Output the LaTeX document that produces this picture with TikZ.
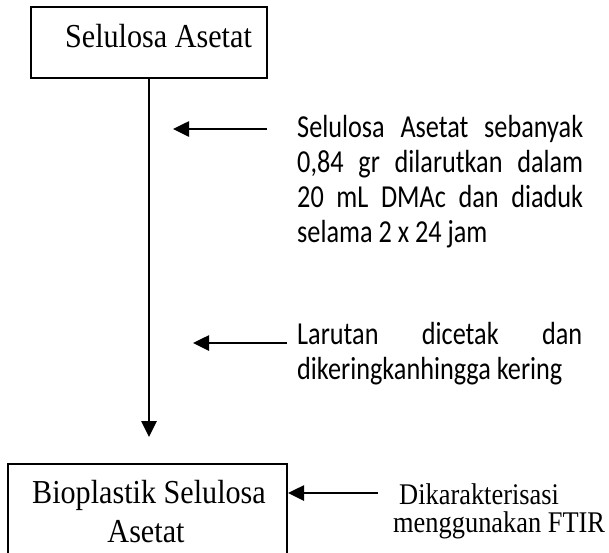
\documentclass[tikz,border=0pt]{standalone}
\usepackage{fontspec}
\usetikzlibrary{arrows.meta,calc}
\newfontfamily\calfont[FakeStretch=0.82]{Carlito}
\newfontfamily\tnrfont[FakeStretch=0.88]{Liberation Serif}
\newfontfamily\cambfont[FakeStretch=0.90]{Liberation Serif}
\begin{document}
\begin{tikzpicture}[x=1pt,y=-1pt,
  boxst/.style={draw, line width=2pt, inner sep=0pt},
  arr/.style={line width=2.6pt, -{Triangle[length=16pt,width=15pt]}},
  boxtext/.style={inner sep=0pt, font=\cambfont\fontsize{33.5}{39}\selectfont},
  sidetext/.style={inner sep=0pt, align=justify, text width=286pt,
    font=\calfont\fontsize{32}{35.3}\selectfont},
  tnrtext/.style={inner sep=0pt, align=left,
    font=\tnrfont\fontsize{30}{27}\selectfont}]
\useasboundingbox (0,0) rectangle (609,552);
\fill[white] (0,0) rectangle (609,552);

% top box
\node[boxst, minimum width=236pt, minimum height=71pt] (topbox) at (149,42.5) {};
\node[boxtext, anchor=base] (toptext) at (158.5,47) {Selulosa Asetat};

% bottom box (its lower edge lies below the picture)
\node[boxst, minimum width=279pt, minimum height=92pt] (botbox) at (147.5,510) {};
\node[boxtext, anchor=base] (bottext1) at (149,503) {Bioplastik Selulosa};
\node[boxtext, anchor=base] (bottext2) at (146,542) {Asetat};

% vertical arrow
\coordinate (vtip) at (149,437);
\draw[arr] (topbox.south) -- (vtip);

% first side note
\coordinate (a1tail) at (267,129);
\coordinate (a1tip) at (173,129);
\draw[arr] (a1tail) -- (a1tip);
\node[sidetext, anchor=base west] (note1) at (297,137)
  {Selulosa Asetat sebanyak\linebreak 0,84 gr dilarutkan dalam\linebreak 20 mL DMAc dan diaduk\linebreak selama 2 x 24 jam};

% second side note
\coordinate (a2tail) at (287,343);
\coordinate (a2tip) at (193,343);
\draw[arr] (a2tail) -- (a2tip);
\node[sidetext, text width=285pt, anchor=base west] (note2) at (297,344)
  {Larutan dicetak dan\linebreak dikeringkanhingga kering};

% third side note
\coordinate (a3tail) at (378,493);
\draw[arr] (a3tail) -- (a3tail -| botbox.east);
\node[tnrtext, anchor=base west] (note3a) at (399,504) {Dikarakterisasi};
\node[tnrtext, anchor=base west] (note3b) at (393,532) {menggunakan FTIR};
\end{tikzpicture}
\end{document}
